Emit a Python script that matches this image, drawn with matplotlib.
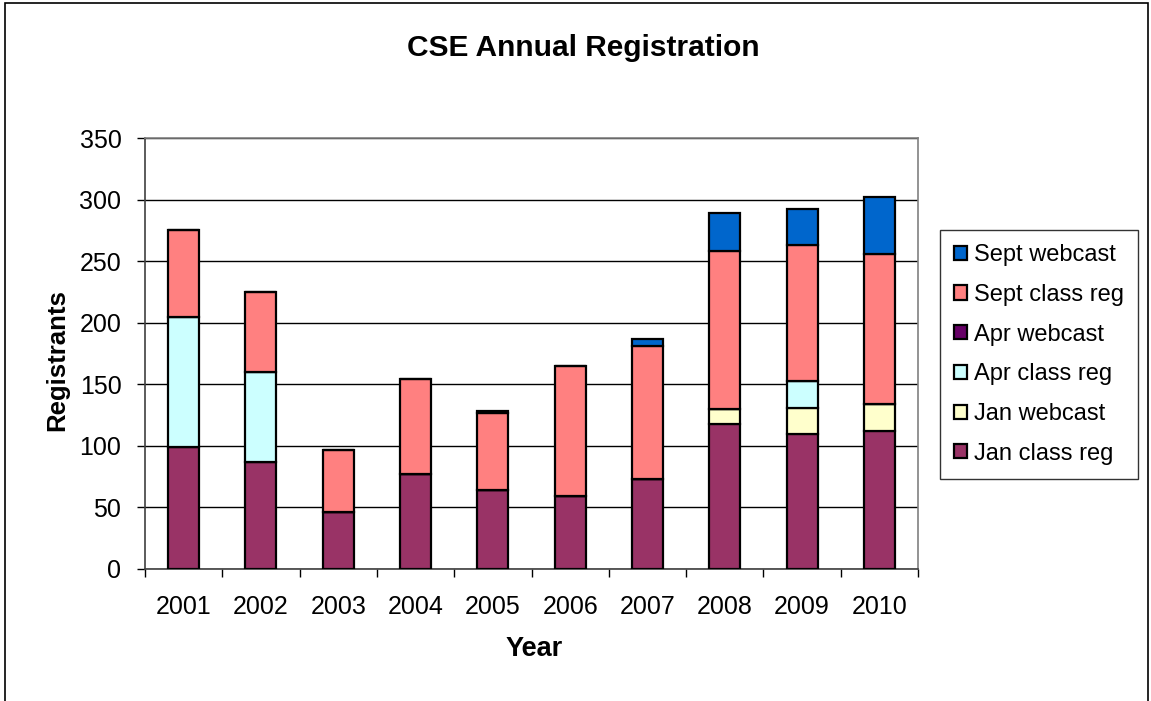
import matplotlib
matplotlib.use("Agg")
import matplotlib.pyplot as plt
import numpy as np
from matplotlib.patches import Rectangle

plt.rcParams['font.family'] = ['Liberation Sans', 'DejaVu Sans']

years = ["2001", "2002", "2003", "2004", "2005", "2006", "2007", "2008", "2009", "2010"]
jan_class = [99, 87, 46, 77, 64, 59, 73, 118, 110, 112]
jan_web = [0, 0, 0, 0, 0, 0, 0, 12, 21, 22]
apr_class = [106, 73, 0, 0, 0, 0, 0, 0, 22, 0]
apr_web = [0, 0, 0, 0, 0, 0, 0, 0, 0, 0]
sept_class = [70, 65, 51, 77, 63, 106, 108, 128, 110, 122]
sept_web = [0, 0, 0, 0, 1, 0, 6, 31, 29, 46]

series = [
    ("Jan class reg", jan_class, "#993366"),
    ("Jan webcast", jan_web, "#FFFFCC"),
    ("Apr class reg", apr_class, "#CCFFFF"),
    ("Apr webcast", apr_web, "#660066"),
    ("Sept class reg", sept_class, "#FF8080"),
    ("Sept webcast", sept_web, "#0066CC"),
]

W, H = 1151, 701
fig = plt.figure(figsize=(W / 100, H / 100), dpi=100)
fig.patches.append(Rectangle((5 / W, -0.01), 1143 / W, 1 - 3 / H + 0.01,
                             transform=fig.transFigure, fill=False,
                             edgecolor="black", linewidth=1.2))

ax = fig.add_axes([145 / W, 1 - 569 / H, 773 / W, 431 / H])
x = np.arange(len(years))
bottom = np.zeros(len(years))
handles = []
for name, vals, color in series:
    vals = np.array(vals, dtype=float)
    b = ax.bar(x, vals, bottom=bottom, width=0.4, color=color,
               edgecolor="black", linewidth=1.6, label=name, zorder=3)
    handles.append(b)
    bottom += vals

ax.set_xlim(-0.5, len(years) - 0.5)
ax.set_ylim(0, 350)
ax.set_yticks(np.arange(0, 351, 50))
ax.yaxis.grid(True, color="black", linewidth=1.0, zorder=0)
ax.set_axisbelow(True)

ax.set_xticks(x)
ax.set_xticklabels(years, fontsize=18)
ax.set_xticks(np.arange(-0.5, len(years), 1), minor=True)
ax.tick_params(axis="x", which="major", length=0, pad=19)
ax.tick_params(axis="x", which="minor", length=6, width=1, direction="out")
ax.tick_params(axis="y", length=6, width=1, direction="out", labelsize=18, pad=11)

for s in ["top", "right"]:
    ax.spines[s].set_color("#808080")
    ax.spines[s].set_linewidth(1.2)
for s in ["left", "bottom"]:
    ax.spines[s].set_color("#404040")
    ax.spines[s].set_linewidth(1.2)

fig.text(534 / W, 1 - 649 / H, "Year", ha="center", va="center",
         fontsize=19.5, fontweight="bold")
fig.text(57 / W, 1 - 360 / H, "Registrants", ha="center", va="center",
         rotation=90, fontsize=18.5, fontweight="bold")
fig.text(583 / W, 1 - 48 / H, "CSE Annual Registration", ha="center", va="center",
         fontsize=21.5, fontweight="bold")

leg = fig.legend(handles[::-1], [s[0] for s in series][::-1],
                 loc="upper left", bbox_to_anchor=(940 / W, 1 - 230 / H),
                 borderaxespad=0,
                 frameon=True, fancybox=False, edgecolor="black", fontsize=17,
                 handlelength=0.55, handleheight=0.55, handletextpad=0.3,
                 labelspacing=0.75, borderpad=0.6)
leg.get_frame().set_linewidth(1.0)
for h in leg.legend_handles:
    h.set_linewidth(1.6)

fig.savefig("out.png", dpi=100)
